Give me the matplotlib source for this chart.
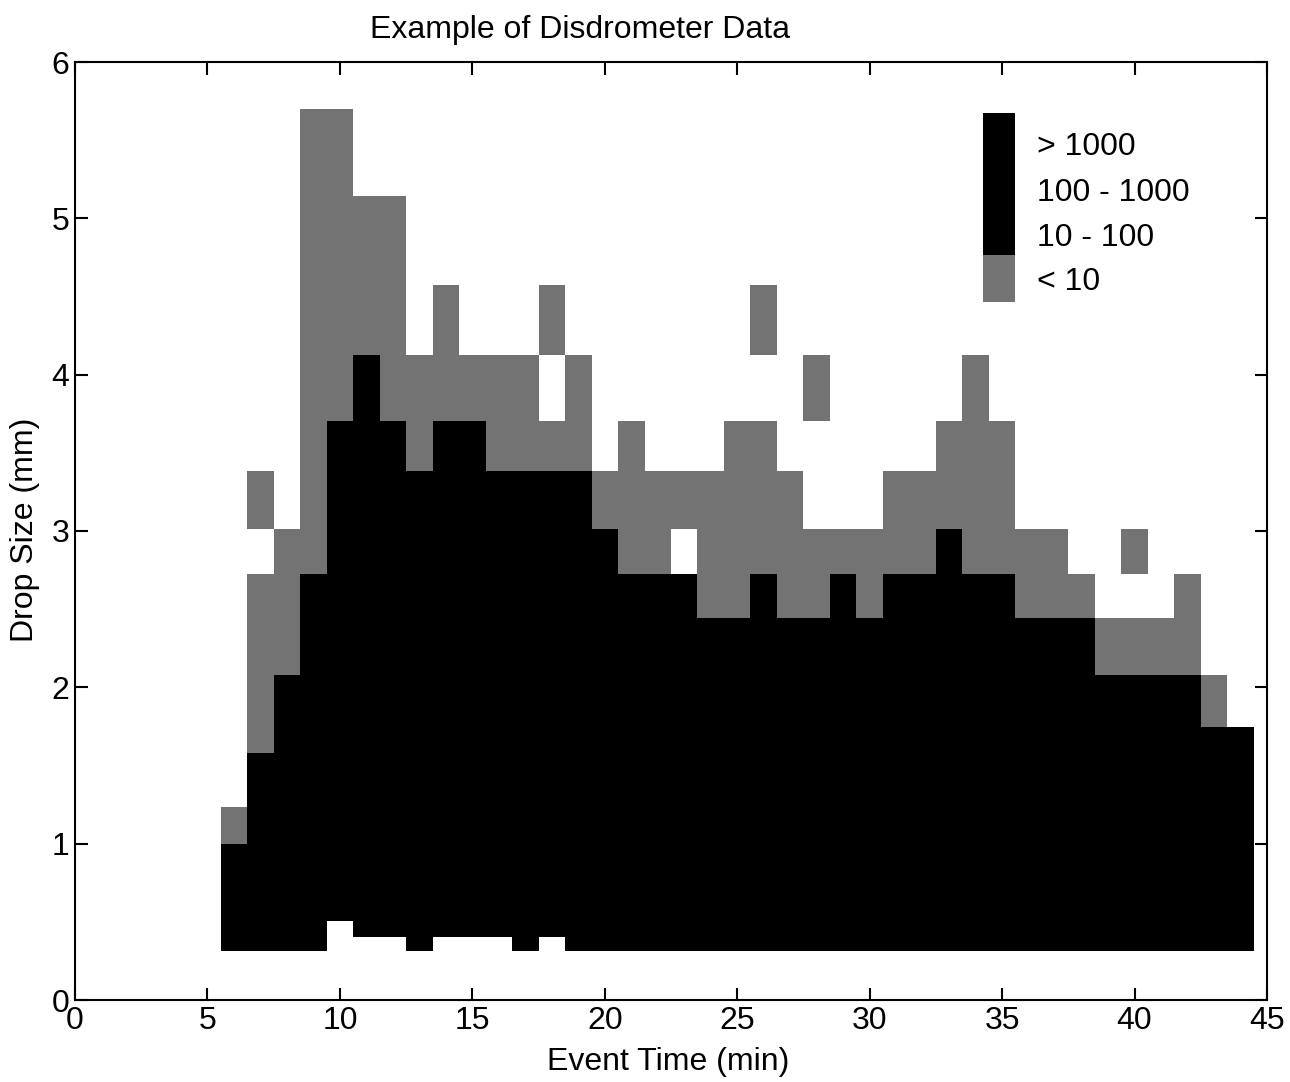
import numpy as np
import matplotlib
matplotlib.use("Agg")
import matplotlib.pyplot as plt
from matplotlib.colors import ListedColormap
from matplotlib.patches import Rectangle

plt.rcParams['font.family'] = ['Liberation Sans', 'DejaVu Sans']

# Drop size class edges (mm), Joss-Waldvogel style classes
size_edges = [0.313, 0.405, 0.505, 0.596, 0.715, 0.827, 0.999, 1.232, 1.429, 1.582,
              1.748, 2.077, 2.441, 2.727, 3.011, 3.385, 3.704, 4.127, 4.573, 5.145, 5.7]

# Event time of each one-minute column (min)
minutes = [6, 7, 8, 9, 10, 11, 12, 13, 14, 15, 16, 17, 18, 19, 20, 21, 22, 23, 24, 25,
           26, 27, 28, 29, 30, 31, 32, 33, 34, 35, 36, 37, 38, 39, 40, 41, 42, 43, 44]

# Lowest occupied class, first class with < 10 drops, first empty class (class index)
bottom_class = [0, 0, 0, 0, 2, 1, 1, 0, 1, 1, 1, 0, 1, 0, 0, 0, 0, 0, 0, 0,
                0, 0, 0, 0, 0, 0, 0, 0, 0, 0, 0, 0, 0, 0, 0, 0, 0, 0, 0]
many_top = [6, 9, 11, 13, 16, 17, 16, 15, 16, 16, 15, 15, 15, 15, 14, 13, 13, 13, 12, 12,
            13, 12, 12, 13, 12, 13, 13, 14, 13, 13, 12, 12, 12, 11, 11, 11, 11, 10, 10]
few_top = [7, 13, 14, 20, 20, 19, 19, 17, 18, 17, 17, 17, 16, 17, 15, 16, 15, 13, 15, 16,
           16, 15, 14, 14, 14, 15, 15, 16, 17, 16, 14, 14, 13, 12, 12, 12, 13, 11, 10]

# Isolated cells with < 10 drops (minute, class index)
stray_minutes = [7, 18, 23, 26, 28, 40]
stray_classes = [14, 17, 14, 17, 16, 13]

legend_labels = ['> 1000', '100 - 1000', '10 - 100', '< 10']
legend_colors = ['black', 'black', 'black', '#737373']

# Build the count-category grid: 1 = < 10, 2 = 10 and above
grid = np.full((len(size_edges) - 1, len(minutes)), np.nan)
for col in range(len(minutes)):
    grid[bottom_class[col]:many_top[col], col] = 2
    grid[many_top[col]:few_top[col], col] = 1
for m, c in zip(stray_minutes, stray_classes):
    grid[c, minutes.index(m)] = 1

time_edges = np.append(np.array(minutes) - 0.5, minutes[-1] + 0.5)

fig = plt.figure(figsize=(12.9, 10.82), dpi=100)
ax = fig.add_axes([75 / 1290, 82 / 1082, 1192 / 1290, 938 / 1082])

cmap = ListedColormap([legend_colors[3], legend_colors[0]])
ax.pcolormesh(time_edges, size_edges, np.ma.masked_invalid(grid), cmap=cmap,
              vmin=0.5, vmax=2.5, shading='flat')

ax.set_xlim(0, 45)
ax.set_ylim(0, 6)
ax.set_xticks([0, 5, 10, 15, 20, 25, 30, 35, 40, 45])
ax.set_yticks([0, 1, 2, 3, 4, 5, 6])
ax.tick_params(direction='in', length=9, width=1.5, top=True, right=True,
               labelsize=23, pad=4)
for spine in ax.spines.values():
    spine.set_linewidth(1.5)

# Legend strip in the upper right
seg_h = 0.0504
strip_top = 0.9456
label_y = [0.9094, 0.8603, 0.8124, 0.7655]
for i, (lab, col) in enumerate(zip(legend_labels, legend_colors)):
    ax.add_patch(Rectangle((0.7617, strip_top - (i + 1) * seg_h), 0.0268, seg_h,
                           transform=ax.transAxes, color=col, lw=0, clip_on=False))
    ax.text(0.807, label_y[i], lab, transform=ax.transAxes, fontsize=23,
            ha='left', va='center')

fig.text(580 / 1290, 1 - 30 / 1082, 'Example of Disdrometer Data', fontsize=23,
         ha='center', va='center')
fig.text(668 / 1290, 1 - 1062 / 1082, 'Event Time (min)', fontsize=23,
         ha='center', va='center')
fig.text(25 / 1290, 1 - 530 / 1082, 'Drop Size (mm)', fontsize=23, rotation=90,
         ha='center', va='center')

fig.savefig('out.png', dpi=100)
